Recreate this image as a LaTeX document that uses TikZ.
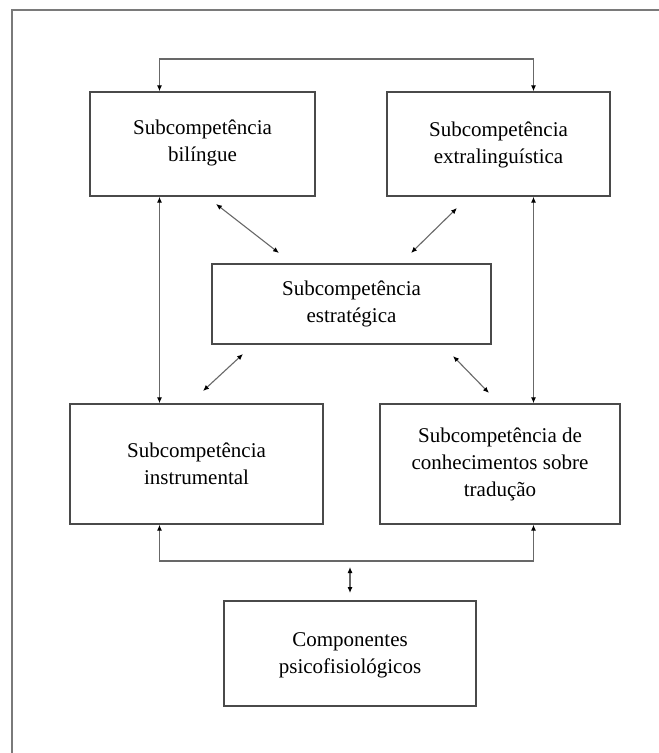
\documentclass[tikz,border=0pt]{standalone}
\usepackage{fontspec}
\setmainfont{Liberation Serif}
\usetikzlibrary{arrows.meta}
\definecolor{framecol}{HTML}{7A7A7A}
\definecolor{boxcol}{HTML}{4A4A4A}
\definecolor{linecol}{HTML}{686868}
\begin{document}
\begin{tikzpicture}[x=1pt,y=-1pt,
  box/.style={draw=boxcol, line width=1.4pt, inner sep=0pt},
  lbl/.style={align=center, inner sep=0pt, font=\fontsize{21}{27}\selectfont},
  conn/.style={draw=linecol, line width=1.1pt, {Latex[length=6pt,width=5pt,color=black]}-{Latex[length=6pt,width=5pt,color=black]}}]
\useasboundingbox (0,0) rectangle (659,753);
\fill[white] (0,0) rectangle (659,753);
% outer frame (cut off at right and bottom)
\draw[framecol, line width=2pt] (12,753) -- (12,9.5) -- (659,9.5);

% boxes
\node[box, minimum width=225, minimum height=104] (b1) at (202.5,144) {};
\node[box, minimum width=223, minimum height=104] (b2) at (498.5,144) {};
\node[box, minimum width=279, minimum height=80] (b3) at (351.5,304) {};
\node[box, minimum width=253, minimum height=120] (b4) at (196.5,464) {};
\node[box, minimum width=240, minimum height=120] (b5) at (500,464) {};
\node[box, minimum width=252, minimum height=105] (b6) at (350,653.5) {};

% texts
\node[lbl] (t1) at ([yshift=1pt]b1.center) {Subcompetência\\bilíngue};
\node[lbl] (t2) at ([yshift=-1pt]b2.center) {Subcompetência\\extralinguística};
\node[lbl] (t3) at (b3.center) {Subcompetência\\estratégica};
\node[lbl] (t4) at (b4.center) {Subcompetência\\instrumental};
\node[lbl] (t5) at (b5.center) {Subcompetência de\\conhecimentos sobre\\tradução};
\node[lbl] (t6) at ([yshift=-2pt]b6.center) {Componentes\\psicofisiológicos};

% helper coordinates
\coordinate (tl) at (159.5,59);
\coordinate (tr) at (533.5,59);
\coordinate (lv) at (159.5,0);
\coordinate (rv) at (533.5,0);
\coordinate (bl) at (159.5,561);
\coordinate (br) at (533.5,561);
\coordinate (ma) at (350,567);
\coordinate (mb) at (350,593);
\coordinate (d1a) at (216,204);
\coordinate (d1b) at (279,253);
\coordinate (d2a) at (457,208);
\coordinate (d2b) at (411,253);
\coordinate (d3a) at (243,354);
\coordinate (d3b) at (203,391);
\coordinate (d4a) at (453,356);
\coordinate (d4b) at (489,393);

% top connector
\draw[conn] (b1.north -| tl) -- (tl) -- (tr) -- (b2.north -| tr);
% vertical connectors
\draw[conn] (b1.south -| lv) -- (b4.north -| lv);
\draw[conn] (b2.south -| rv) -- (b5.north -| rv);
% diagonals
\draw[conn] (d1a) -- (d1b);
\draw[conn] (d2a) -- (d2b);
\draw[conn] (d3a) -- (d3b);
\draw[conn] (d4a) -- (d4b);
% bottom connector
\draw[conn] (b4.south -| bl) -- (bl) -- (br) -- (b5.south -| br);
% middle arrow
\draw[conn] (ma) -- (mb);
\end{tikzpicture}
\end{document}
